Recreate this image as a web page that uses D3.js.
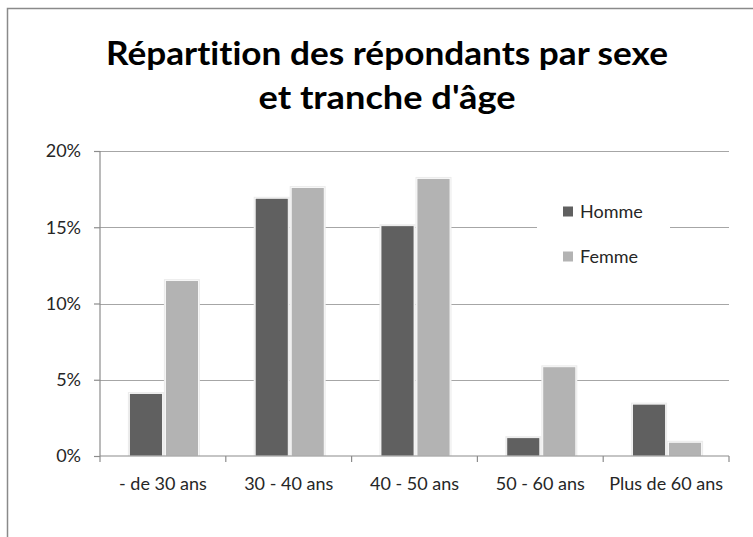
<!DOCTYPE html>
<html><head><meta charset="utf-8">
<script src="https://cdn.jsdelivr.net/npm/d3@7"></script>
<style>html,body{margin:0;padding:0;background:#fff;} svg{display:block;} text{font-variant-ligatures:none;font-feature-settings:"liga" 0,"clig" 0;}</style>
</head><body>
<script>
const categories = ["- de 30 ans", "30 - 40 ans", "40 - 50 ans", "50 - 60 ans", "Plus de 60 ans"];
const series = ["Homme", "Femme"];
const homme = [4.1, 16.9, 15.1, 1.2, 3.4];
const femme = [11.5, 17.6, 18.2, 5.85, 0.9];
const yTicks = [0, 5, 10, 15, 20];
const titleLines = ["Répartition des répondants par sexe", "et tranche d'âge"];
const colors = {Homme: "#606060", Femme: "#b3b3b3"};

(function () {
const W = 753, H = 537;
const svg = d3.select("body").append("svg").attr("width", W).attr("height", H);
const font = "Lato, 'Open Sans', sans-serif";
const txt = "#262626";

// frame
svg.append("path").attr("d", "M7.5,537 V8.5 H753").attr("fill", "none").attr("stroke", "#8a8a8a").attr("stroke-width", 1.5);

// title
const title = svg.append("g").attr("font-family", font).attr("font-weight", "bold").attr("fill", "#000").attr("text-anchor", "middle");
title.append("text").attr("x", 387).attr("y", 65).attr("font-size", 33).attr("textLength", 562).attr("lengthAdjust", "spacingAndGlyphs").text(titleLines[0]);
title.append("text").attr("x", 387).attr("y", 109).attr("font-size", 33).attr("textLength", 257).attr("lengthAdjust", "spacingAndGlyphs").text(titleLines[1]);

const pl = 100, pr = 729, pt = 151, pb = 456;
const x = d3.scaleBand().domain(categories).range([pl, pr]).paddingInner(0).paddingOuter(0);
const y = d3.scaleLinear().domain([0, 20]).range([pb, pt]);
const bw = 33, gap = 3;

// gridlines
svg.append("g").selectAll("line").data(yTicks.filter(d => d > 0)).join("line")
  .attr("x1", pl).attr("x2", pr).attr("y1", d => Math.round(y(d)) + 0.5).attr("y2", d => Math.round(y(d)) + 0.5)
  .attr("stroke", "#a6a6a6").attr("stroke-width", 1.2);

// bars
const data = [];
categories.forEach((c, i) => {
  data.push({c, s: "Homme", v: homme[i], k: 0});
  data.push({c, s: "Femme", v: femme[i], k: 1});
});
const bx = d => x(d.c) + x.bandwidth() / 2 - (bw * 2 + gap) / 2 + d.k * (bw + gap) + 1;
svg.append("g").selectAll("rect").data(data).join("rect")
  .attr("x", d => bx(d) - 1.5).attr("y", d => y(d.v) - 1.5).attr("width", bw + 3).attr("height", d => pb - y(d.v) + 1.5)
  .attr("fill", "#ececec");
svg.append("g").selectAll("rect").data(data).join("rect")
  .attr("x", d => bx(d)).attr("y", d => y(d.v)).attr("width", bw).attr("height", d => pb - y(d.v))
  .attr("fill", d => colors[d.s]).attr("stroke", "#fff").attr("stroke-width", 0.8);

// axes
const ya = svg.append("g").attr("transform", `translate(${pl},0)`)
  .call(d3.axisLeft(y).tickValues(yTicks).tickFormat(d => d + "%").tickSize(6).tickPadding(13));
const xa = svg.append("g").attr("transform", `translate(0,${pb})`)
  .call(d3.axisBottom(x).tickSize(0).tickPadding(0));
[ya, xa].forEach(a => {
  a.select(".domain").attr("stroke", "#8c8c8c").attr("stroke-width", 1.2);
  a.selectAll("line").attr("stroke", "#8c8c8c").attr("stroke-width", 1.2);
  a.selectAll("text").attr("font-family", font).attr("font-size", 18).attr("fill", txt);
});
ya.select(".domain").attr("d", `M0,${pt}V${pb}`);
xa.select(".domain").attr("d", `M${pl},0H${pr}`);
xa.append("g").selectAll("line").data(d3.range(categories.length + 1)).join("line")
  .attr("x1", i => pl + i * x.bandwidth()).attr("x2", i => pl + i * x.bandwidth())
  .attr("y1", 0).attr("y2", 6).attr("stroke", "#8c8c8c").attr("stroke-width", 1.2);
xa.selectAll(".tick text").attr("y", 34).attr("dy", null);

// legend
const lg = svg.append("g");
lg.append("rect").attr("x", 537).attr("y", 185).attr("width", 133).attr("height", 95).attr("fill", "#fff");
series.forEach((s, i) => {
  const yy = 206.5 + i * 45;
  lg.append("rect").attr("x", 563).attr("y", yy).attr("width", 10).attr("height", 10).attr("fill", colors[s]);
  lg.append("text").attr("x", 580).attr("y", yy + 11).attr("font-family", font).attr("font-size", 18).attr("fill", txt).text(s);
});
})();
</script>
</body></html>
